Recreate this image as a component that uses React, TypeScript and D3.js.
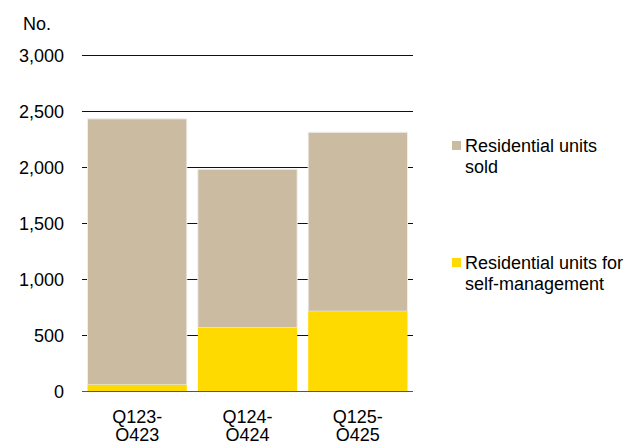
import React from "react";
import * as d3 from "d3";

const categories = ["Q123-\nQ423", "Q124-\nQ424", "Q125-\nQ425"];
const selfManaged = [55, 565, 712];
const sold = [2375, 1415, 1598];
const yTicks = [0, 500, 1000, 1500, 2000, 2500, 3000];
const seriesNames = ["Residential units\nsold", "Residential units for\nself-management"];
const seriesColors = ["#CBBBA0", "#FFDA00"];

export default function App() {
  const W = 629, H = 441;
  const x = d3.scaleBand<number>().domain(d3.range(categories.length)).range([82, 413]).paddingInner(0.1).paddingOuter(0.05);
  const y = d3.scaleLinear().domain([0, 3000]).range([391, 55]);
  const fmt = d3.format(",");
  const font = "'Liberation Sans', Arial, sans-serif";
  return (
    <svg width={W} height={H} style={{ position: "absolute", left: 0, top: 0, fontFamily: font }}>
      <rect width={W} height={H} fill="#fff" />
      <text x={23} y={30} fontSize={18} fill="#000">No.</text>
      {yTicks.map((t) => (
        <g key={t}>
          <line x1={82} x2={413} y1={Math.round(y(t)) + 0.5} y2={Math.round(y(t)) + 0.5} stroke={t === 0 ? "#555" : "#111"} strokeWidth={1} />
          <text x={64} y={y(t) + 7} textAnchor="end" fontSize={18} fill="#000">{fmt(t)}</text>
        </g>
      ))}
      {categories.map((c, i) => {
        const x0 = x(i)!;
        const bw = x.bandwidth();
        return (
          <g key={i}>
            <rect x={x0} y={y(selfManaged[i] + sold[i])} width={bw} height={y(selfManaged[i]) - y(selfManaged[i] + sold[i])} fill={seriesColors[0]} stroke="#eee" strokeWidth={1} />
            <rect x={x0} y={y(selfManaged[i])} width={bw} height={y(0) - y(selfManaged[i])} fill={seriesColors[1]} />
            {c.split("\n").map((ln, j) => (
              <text key={j} x={x0 + bw / 2} y={423 + j * 18} textAnchor="middle" fontSize={18} fill="#000">{ln}</text>
            ))}
          </g>
        );
      })}
      {seriesNames.map((s, i) => {
        const ly = i === 0 ? 145.5 : 262.5;
        return (
          <g key={i}>
            <rect x={452} y={ly - 4.5} width={9} height={9} fill={seriesColors[i]} />
            {s.split("\n").map((ln, j) => (
              <text key={j} x={465} y={ly + 6.5 + j * 20.5} fontSize={18} fill="#000">{ln}</text>
            ))}
          </g>
        );
      })}
    </svg>
  );
}
